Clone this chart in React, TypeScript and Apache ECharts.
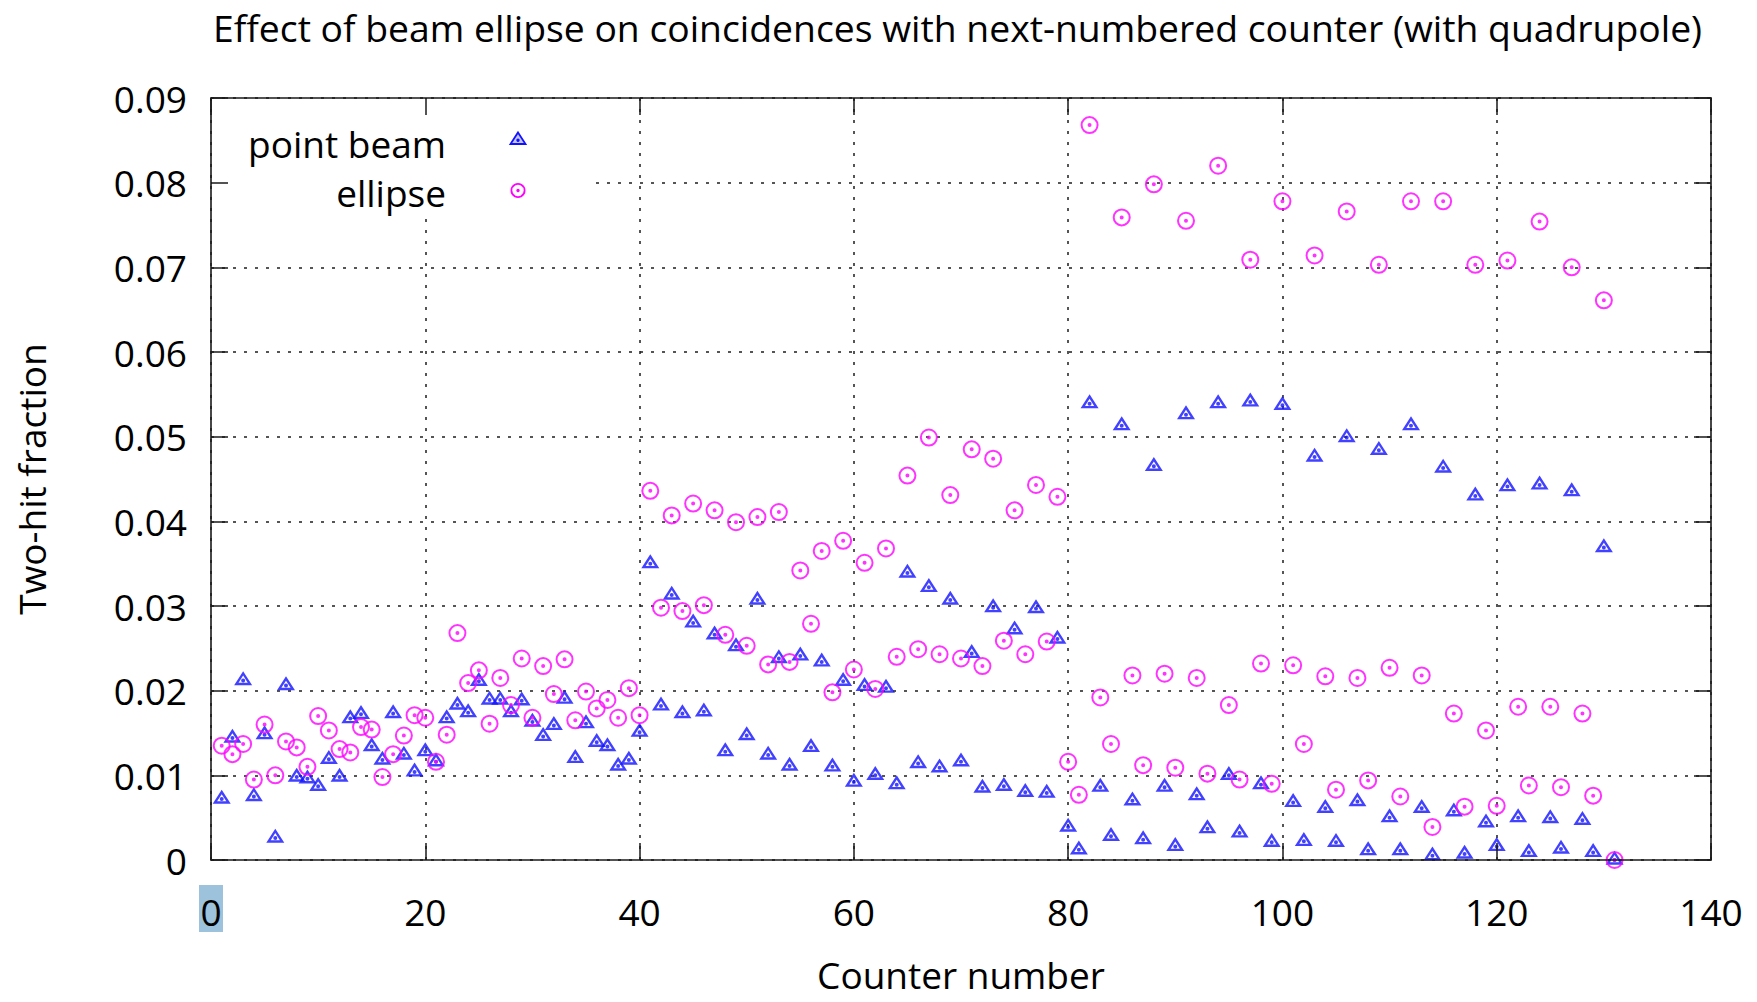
import React, { useEffect, useRef } from "react";
import * as echarts from "echarts";

// Labels
const TITLE = "Effect of beam ellipse on coincidences with next-numbered counter (with quadrupole)";
const X_NAME = "Counter number";
const Y_NAME = "Two-hit fraction";
const SERIES_NAMES = ["point beam", "ellipse"];

// Axis ranges
const X_RANGE = [0, 140];
const X_STEP = 20;
const Y_RANGE = [0, 0.09];
const Y_STEP = 0.01;

// Two-hit fraction per counter (counters 1..131)
const pointBeam = [
  0.0072, 0.0144, 0.0212, 0.0075, 0.0148, 0.0026, 0.0206, 0.0098, 0.0096, 0.0087,
  0.0119, 0.0098, 0.0167, 0.0172, 0.0134, 0.0118, 0.0173, 0.0124, 0.0104, 0.0128,
  0.0116, 0.0167, 0.0183, 0.0174, 0.0211, 0.0189, 0.0189, 0.0174, 0.0188, 0.0163,
  0.0146, 0.0159, 0.019, 0.012, 0.0161, 0.0139, 0.0134, 0.0111, 0.0118, 0.0151,
  0.035, 0.0182, 0.0313, 0.0173, 0.028, 0.0175, 0.0266, 0.0128, 0.0252, 0.0147,
  0.0307, 0.0124, 0.0238, 0.0111, 0.0241, 0.0133, 0.0234, 0.011, 0.0211, 0.0092,
  0.0205, 0.01, 0.0203, 0.0089, 0.0339, 0.0114, 0.0322, 0.0109, 0.0307, 0.0116,
  0.0244, 0.0085, 0.0298, 0.0087, 0.0272, 0.008, 0.0297, 0.0079, 0.0261, 0.0039,
  0.0012, 0.0539, 0.0086, 0.0028, 0.0513, 0.007, 0.0024, 0.0465, 0.0086, 0.0016,
  0.0526, 0.0076, 0.0037, 0.0539, 0.01, 0.0032, 0.0541, 0.0089, 0.0021, 0.0537,
  0.0068, 0.0022, 0.0476, 0.0061, 0.0021, 0.0499, 0.0069, 0.0011, 0.0484, 0.005,
  0.0011, 0.0513, 0.0061, 0.0005, 0.0463, 0.0057, 0.0007, 0.043, 0.0044, 0.0016,
  0.0441, 0.005, 0.0009, 0.0443, 0.0049, 0.0013, 0.0435, 0.0047, 0.0009, 0.0369,
  0.0,
];

const ellipse = [
  0.0135, 0.0125, 0.0137, 0.0095, 0.016, 0.01, 0.014, 0.0133, 0.011, 0.017,
  0.0153, 0.0131, 0.0127, 0.0157, 0.0154, 0.0098, 0.0125, 0.0147, 0.0171, 0.0168,
  0.0116, 0.0148, 0.0268, 0.0209, 0.0224, 0.0161, 0.0215, 0.0183, 0.0238, 0.0168,
  0.0229, 0.0196, 0.0237, 0.0165, 0.0199, 0.0179, 0.0189, 0.0168, 0.0203, 0.0171,
  0.0436, 0.0298, 0.0407, 0.0294, 0.0421, 0.0301, 0.0413, 0.0266, 0.0399, 0.0253,
  0.0405, 0.0231, 0.0411, 0.0234, 0.0342, 0.0279, 0.0365, 0.0198, 0.0377, 0.0225,
  0.0351, 0.0202, 0.0368, 0.024, 0.0454, 0.0249, 0.0499, 0.0243, 0.0431, 0.0238,
  0.0485, 0.0229, 0.0474, 0.0259, 0.0413, 0.0243, 0.0443, 0.0258, 0.0429, 0.0116,
  0.0077, 0.0868, 0.0192, 0.0137, 0.0759, 0.0218, 0.0112, 0.0798, 0.022, 0.0109,
  0.0755, 0.0215, 0.0102, 0.082, 0.0183, 0.0095, 0.0709, 0.0232, 0.009, 0.0778,
  0.023, 0.0137, 0.0714, 0.0217, 0.0083, 0.0766, 0.0215, 0.0094, 0.0703, 0.0227,
  0.0075, 0.0778, 0.0218, 0.0039, 0.0778, 0.0173, 0.0063, 0.0703, 0.0153, 0.0064,
  0.0708, 0.0181, 0.0088, 0.0754, 0.0181, 0.0086, 0.07, 0.0173, 0.0076, 0.0661,
  0.0,
];

const counters = pointBeam.map((_, i) => i + 1);

const FONT = '"Open Sans", "Noto Sans", sans-serif';
const FONT_SIZE = 37;
const INK = "#1a1a1a";
const BLUE = "#1212ff";
const MAGENTA = "#ff00ff";

// Open triangle with a centre dot (hole made by reversed winding)
const TRIANGLE =
  "path://M0,-9.33L9,4.67L-9,4.67ZM0,-4.89L-4.6,2.27L4.6,2.27Z" +
  "M0,-2A2,2,0,1,1,0,2A2,2,0,1,1,0,-2Z";
// Open circle with a centre dot
const RING =
  "path://M0,-9A9,9,0,1,1,0,9A9,9,0,1,1,0,-9Z" +
  "M0,-7A7,7,0,1,0,0,7A7,7,0,1,0,0,-7Z" +
  "M0,-2A2,2,0,1,1,0,2A2,2,0,1,1,0,-2Z";

const textStyle = { fontFamily: FONT, fontSize: FONT_SIZE, color: "#000" };
const frameLine = { show: true, onZero: false, lineStyle: { color: INK, width: 1.6 } };
const innerTicks = { show: true, inside: true, length: 17, lineStyle: { color: INK, width: 1.5 } };
const gridDots = { show: true, lineStyle: { color: "#1e1e1e", width: 1.5, type: [3, 8] } };
const hidden = { show: false };

function yLabel(v: number) {
  return v === 0 ? "0" : v.toFixed(2);
}

function buildOption() {
  const xBase = { type: "value", min: X_RANGE[0], max: X_RANGE[1], interval: X_STEP };
  const yBase = { type: "value", min: Y_RANGE[0], max: Y_RANGE[1], interval: Y_STEP };
  return {
    animation: false,
    backgroundColor: "#ffffff",
    title: {
      text: TITLE,
      left: 208,
      top: 4,
      textStyle: { ...textStyle, fontSize: 37.3, fontWeight: "normal" },
    },
    grid: { left: 211, top: 98, right: 46, bottom: 142, containLabel: false },
    xAxis: [
      {
        ...xBase,
        position: "bottom",
        z: 3,
        axisLine: frameLine,
        axisTick: innerTicks,
        axisLabel: { ...textStyle, margin: 33 },
        splitLine: hidden,
        name: X_NAME,
        nameLocation: "middle",
        nameGap: 96,
        nameTextStyle: textStyle,
      },
      {
        ...xBase,
        position: "top",
        z: 3,
        axisLine: frameLine,
        axisTick: innerTicks,
        axisLabel: hidden,
        splitLine: hidden,
      },
      {
        ...xBase,
        position: "bottom",
        z: 0,
        axisLine: hidden,
        axisTick: hidden,
        axisLabel: hidden,
        splitLine: gridDots,
      },
    ],
    yAxis: [
      {
        ...yBase,
        position: "left",
        z: 3,
        axisLine: frameLine,
        axisTick: innerTicks,
        axisLabel: { ...textStyle, margin: 24, formatter: yLabel },
        splitLine: hidden,
        name: Y_NAME,
        nameLocation: "middle",
        nameRotate: 90,
        nameGap: 161,
        nameTextStyle: textStyle,
      },
      {
        ...yBase,
        position: "right",
        z: 3,
        axisLine: frameLine,
        axisTick: innerTicks,
        axisLabel: hidden,
        splitLine: hidden,
      },
      {
        ...yBase,
        position: "left",
        z: 0,
        axisLine: hidden,
        axisTick: hidden,
        axisLabel: hidden,
        splitLine: gridDots,
      },
    ],
    graphic: {
      elements: [
        // opaque key box
        { id: "keyBox", type: "rect", z: 1, shape: { x: 212, y: 99, width: 376, height: 116 }, style: { fill: "#fff" } },
        {
          id: "keyText1", type: "text", z: 5, x: 446, y: 143,
          style: { text: SERIES_NAMES[0], fontFamily: FONT, fontSize: FONT_SIZE, fill: "#000", align: "right", verticalAlign: "middle" },
        },
        {
          id: "keyText2", type: "text", z: 5, x: 446, y: 192,
          style: { text: SERIES_NAMES[1], fontFamily: FONT, fontSize: FONT_SIZE, fill: "#000", align: "right", verticalAlign: "middle" },
        },
        {
          id: "keyTri", type: "polygon", z: 5,
          shape: { points: [[518, 132.5], [525.5, 144], [510.5, 144]] },
          style: { fill: "rgba(18,18,255,0.25)", stroke: BLUE, lineWidth: 1.8 },
        },
        { id: "keyTriDot", type: "circle", z: 6, shape: { cx: 518, cy: 140.2, r: 1.7 }, style: { fill: BLUE } },
        {
          id: "keyRing", type: "circle", z: 5, shape: { cx: 518, cy: 190.5, r: 6.6 },
          style: { fill: "none", stroke: MAGENTA, lineWidth: 1.8 },
        },
        { id: "keyRingDot", type: "circle", z: 6, shape: { cx: 518, cy: 190.5, r: 1.7 }, style: { fill: MAGENTA } },
      ],
    },
    series: [
      {
        name: SERIES_NAMES[0],
        type: "scatter",
        xAxisIndex: 0,
        yAxisIndex: 0,
        data: counters.map((c, i) => [c, pointBeam[i]]),
        symbol: TRIANGLE,
        symbolSize: [18, 14],
        symbolOffset: [0, -2.33],
        itemStyle: { color: BLUE },
        z: 2,
      },
      {
        name: SERIES_NAMES[1],
        type: "scatter",
        xAxisIndex: 0,
        yAxisIndex: 0,
        data: counters.map((c, i) => [c, ellipse[i]]),
        symbol: RING,
        symbolSize: 18,
        itemStyle: { color: MAGENTA },
        z: 2,
      },
    ],
  };
}

export default function App() {
  const ref = useRef<HTMLDivElement>(null);

  useEffect(() => {
    if (!ref.current) return;
    const chart = echarts.init(ref.current, null, { renderer: "svg" });
    chart.setOption(buildOption() as any);

    // highlight behind the first x tick label
    const x0 = chart.convertToPixel({ xAxisIndex: 0 }, X_RANGE[0]) as number;
    chart.setOption({
      graphic: {
        elements: [
          { id: "zeroMark", type: "rect", z: 0, shape: { x: x0 - 12, y: 885, width: 24, height: 47 }, style: { fill: "#9cc2dc" } },
        ],
      },
    } as any);

    return () => chart.dispose();
  }, []);

  return (
    <div
      ref={ref}
      style={{ position: "absolute", left: 0, top: 0, width: 1757, height: 1002, background: "#fff" }}
    />
  );
}
